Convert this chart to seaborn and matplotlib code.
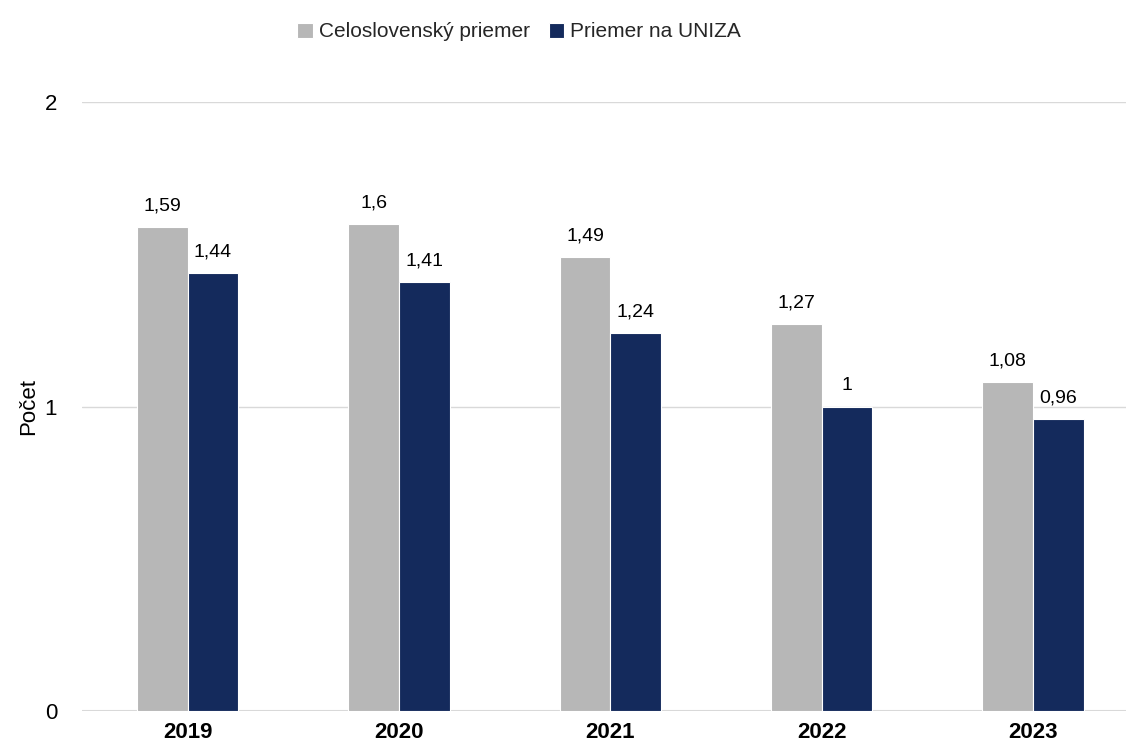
import matplotlib
matplotlib.use("Agg")
import matplotlib.pyplot as plt
import pandas as pd
import seaborn as sns

years = ["2019", "2020", "2021", "2022", "2023"]
slovensko = [1.59, 1.6, 1.49, 1.27, 1.08]
uniza = [1.44, 1.41, 1.24, 1.0, 0.96]
series_names = ["Celoslovenský priemer", "Priemer na UNIZA"]
y_ticks = [0, 1, 2]

sns.set_theme(style="white")
plt.rcParams["font.family"] = ["Liberation Sans", "DejaVu Sans"]

df = pd.DataFrame({
    "rok": years * 2,
    "hodnota": slovensko + uniza,
    "rad": [series_names[0]] * len(years) + [series_names[1]] * len(years),
})

fig = plt.figure(figsize=(11.26, 7.49), dpi=100)
ax = fig.add_axes([82 / 1126, 38 / 749, 1044 / 1126, 609 / 749])

sns.barplot(data=df, x="rok", y="hodnota", hue="rad", order=years,
            hue_order=series_names, palette=["#b7b7b7", "#142a5c"],
            saturation=1, width=0.48, edgecolor="white", linewidth=0.8, ax=ax)

def fmt(v):
    return f"{v:g}".replace(".", ",")

for cont in ax.containers:
    ax.bar_label(cont, labels=[fmt(b.get_height()) for b in cont],
                 padding=9, fontsize=14, color="black")

ax.set_ylim(0, 2)
ax.set_xlim(-0.5, 4.44)
ax.set_yticks(y_ticks)
ax.set_yticklabels([str(t) for t in y_ticks], fontsize=16, color="black")
ax.tick_params(axis="y", length=0, pad=18)
ax.tick_params(axis="x", length=0, pad=8)
for lab in ax.get_xticklabels():
    lab.set_fontweight("bold")
    lab.set_fontsize(16)
    lab.set_color("black")
ax.yaxis.grid(True, color="#d9d9d9", lw=1)
ax.set_axisbelow(True)
for s in ax.spines.values():
    s.set_visible(False)
ax.axhline(0, color="#d9d9d9", lw=1.5, zorder=0)
ax.set_xlabel("")
ax.set_ylabel("Počet", fontsize=16, labelpad=4, color="black")

handles, labels = ax.get_legend_handles_labels()
ax.get_legend().remove()
fig.legend(handles, labels, loc="upper center", bbox_to_anchor=(0.461, 0.995),
           ncol=2, frameon=False, fontsize=15, handlelength=0.75,
           handleheight=0.75, handletextpad=0.3, columnspacing=0.9)

fig.savefig("out.png", dpi=100)
